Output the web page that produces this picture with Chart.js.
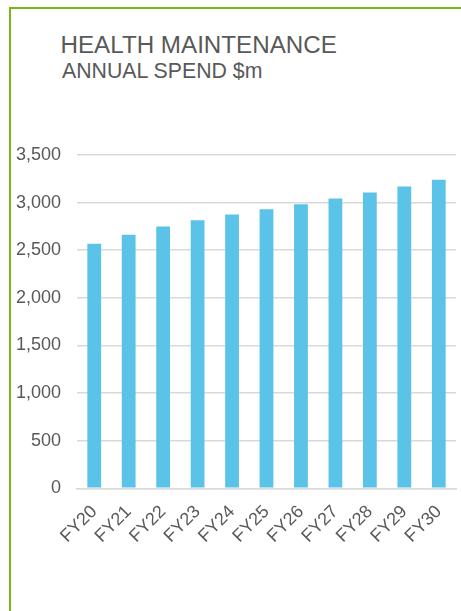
<!DOCTYPE html>
<html>
<head>
<meta charset="utf-8">
<script src="https://cdn.jsdelivr.net/npm/chart.js@4.4.1/dist/chart.umd.min.js"></script>
<style>
  html, body { margin: 0; padding: 0; background: #ffffff; }
  body { width: 461px; height: 611px; position: relative; overflow: hidden; font-family: "Liberation Sans", Arial, sans-serif; }
  #frame { position: absolute; left: 9px; top: 6.5px; width: 460px; height: 620px; border-top: 2px solid #7cb518; border-left: 2.5px solid #7cb518; box-sizing: border-box; }
  .t { position: absolute; color: #595959; white-space: nowrap; }
  #title { left: 60.5px; top: 33px; font-size: 24.2px; line-height: 24px; }
  #subtitle { left: 62px; top: 61px; font-size: 21.3px; line-height: 21px; }
  #wrap { position: absolute; left: 0; top: 0; width: 461px; height: 611px; }
</style>
</head>
<body>
<div id="frame"></div>
<div class="t" id="title">HEALTH MAINTENANCE</div>
<div class="t" id="subtitle">ANNUAL SPEND $m</div>
<div id="wrap"><canvas id="c" width="461" height="611"></canvas></div>
<script>
const categories = ["FY20", "FY21", "FY22", "FY23", "FY24", "FY25", "FY26", "FY27", "FY28", "FY29", "FY30"];
const spend = [2568, 2662, 2749, 2816, 2875, 2931, 2984, 3043, 3106, 3169, 3239];
const yMax = 3500;
const yStep = 500;

new Chart(document.getElementById("c"), {
  type: "bar",
  data: {
    labels: categories,
    datasets: [{
      label: "Annual spend $m",
      data: spend,
      backgroundColor: "#5bc3e8",
      borderWidth: 0,
      barPercentage: 0.8,
      categoryPercentage: 0.5
    }]
  },
  options: {
    responsive: false,
    animation: false,
    devicePixelRatio: 1,
    layout: { padding: { left: 15, right: 5, top: 155, bottom: 51 } },
    plugins: { legend: { display: false }, tooltip: { enabled: false }, title: { display: false } },
    scales: {
      x: {
        grid: { display: false, drawTicks: false },
        border: { display: true, color: "#d9d9d9", width: 1.5 },
        afterFit: s => { s.paddingLeft = 0; s.paddingRight = 0; },
        ticks: {
          color: "#595959",
          font: { family: "Liberation Sans", size: 18 },
          minRotation: 45,
          maxRotation: 45,
          padding: 13,
          autoSkip: false
        }
      },
      y: {
        min: 0,
        max: yMax,
        grid: { color: "#d9d9d9", lineWidth: 1.5, drawTicks: false },
        border: { display: false },
        afterFit: s => { s.width = 62; },
        ticks: {
          stepSize: yStep,
          color: "#595959",
          font: { family: "Liberation Sans", size: 18 },
          padding: 16,
          callback: v => v.toLocaleString("en-US")
        }
      }
    }
  }
});
</script>
</body>
</html>
